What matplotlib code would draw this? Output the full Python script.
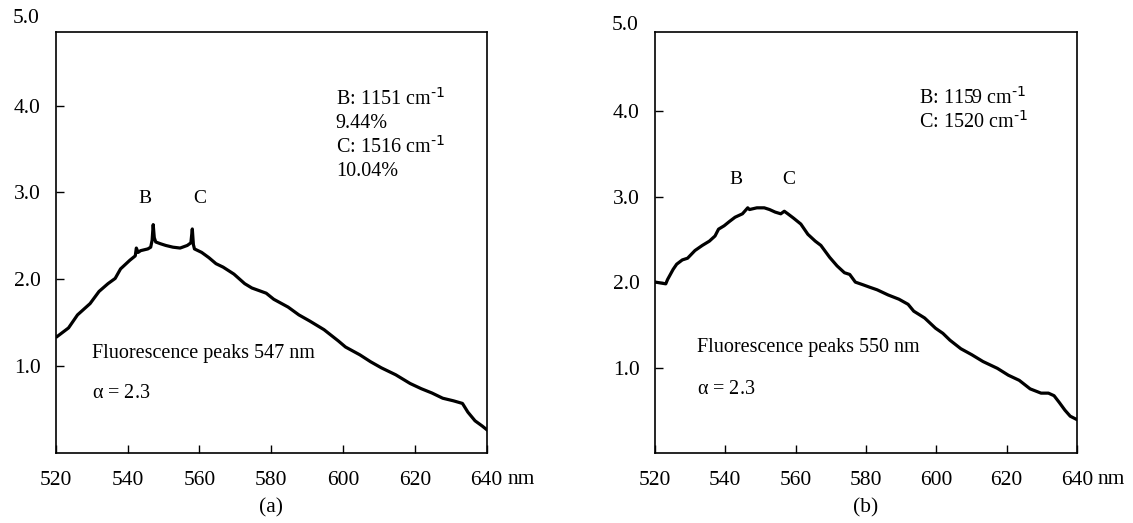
import numpy as np
import matplotlib
matplotlib.use("Agg")
import matplotlib.pyplot as plt

plt.rcParams['font.family'] = ['Liberation Serif', 'DejaVu Serif']
plt.rcParams['mathtext.default'] = 'regular'

# panel (a) spectrum
wl_a = [520.3, 523.5, 526.0, 529.5, 532.0, 534.5, 536.5, 538.0, 540.6, 542.1,
        542.4, 542.9, 543.6, 545.6, 546.4, 546.8, 547.1, 547.4, 547.8, 549.1,
        550.6, 552.6, 554.6, 556.6, 557.6, 558.0, 558.3, 558.6, 560.6, 562.6,
        564.6, 566.6, 569.6, 572.6, 574.6, 578.6, 580.7, 584.7, 587.7, 590.7,
        594.7, 598.7, 600.7, 604.7, 607.7, 610.7, 614.7, 618.7, 621.8, 624.8,
        627.8, 630.8, 633.3, 634.8, 636.8, 638.8, 640.0]
int_a = [1.34, 1.44, 1.59, 1.72, 1.86, 1.95, 2.01, 2.12, 2.22, 2.27,
         2.36, 2.31, 2.33, 2.35, 2.37, 2.45, 2.63, 2.48, 2.43, 2.41,
         2.39, 2.37, 2.36, 2.39, 2.42, 2.58, 2.40, 2.35, 2.31, 2.25,
         2.18, 2.14, 2.06, 1.95, 1.90, 1.84, 1.77, 1.68, 1.59, 1.52,
         1.42, 1.29, 1.22, 1.13, 1.05, 0.98, 0.90, 0.80, 0.74, 0.69,
         0.63, 0.60, 0.57, 0.47, 0.37, 0.31, 0.27]

# panel (b) spectrum
wl_b = [520.2, 521.6, 523.1, 523.6, 525.2, 526.2, 527.8, 529.3, 531.4, 533.5,
        535.5, 537.1, 538.1, 539.7, 541.2, 542.8, 544.9, 546.4, 546.9, 549.0,
        551.1, 552.6, 554.2, 555.8, 556.8, 557.8, 559.4, 561.5, 563.5, 565.6,
        567.2, 569.7, 571.8, 573.9, 575.4, 577.0, 579.1, 581.1, 583.2, 586.3,
        589.4, 592.0, 593.6, 596.7, 599.8, 601.9, 603.9, 607.0, 610.1, 613.3,
        617.4, 620.5, 623.6, 626.7, 629.8, 631.9, 633.5, 635.0, 636.6, 638.1,
        640.0]
int_b = [2.00, 1.99, 1.98, 2.03, 2.15, 2.21, 2.26, 2.28, 2.37, 2.43,
         2.48, 2.54, 2.62, 2.66, 2.71, 2.76, 2.80, 2.87, 2.85, 2.87,
         2.87, 2.85, 2.82, 2.80, 2.83, 2.80, 2.75, 2.68, 2.56, 2.48,
         2.43, 2.29, 2.19, 2.11, 2.09, 2.00, 1.97, 1.94, 1.91, 1.85,
         1.80, 1.74, 1.66, 1.58, 1.46, 1.40, 1.32, 1.22, 1.15, 1.07,
         0.99, 0.91, 0.85, 0.75, 0.70, 0.70, 0.67, 0.59, 0.50, 0.43,
         0.39]

xticks = [520, 540, 560, 580, 600, 620, 640]
yticks = [1.0, 2.0, 3.0, 4.0]

notes_a = [r'B: 1151 cm$^{\text{-1}}$', '9.44%', r'C: 1516 cm$^{\text{-1}}$', '10.04%']
notes_b = [r'B: 1159 cm$^{\text{-1}}$', r'C: 1520 cm$^{\text{-1}}$']

TICK_FS = 15.5
NOTE_FS = 14.5


def draw_panel(ax, wl, inten, top, notes, note_pos, peak_text, peak_pos,
               bc_pos, tag):
    ax.plot(wl, inten, color='black', lw=2.3, solid_joinstyle='round')
    ax.set_xlim(520, 640)
    ax.set_ylim(0, top)
    ax.set_xticks(xticks)
    ax.set_yticks(yticks)
    ax.set_yticklabels([f'{v:.1f}' for v in yticks])
    ax.tick_params(direction='in', length=6, width=1, labelsize=TICK_FS)
    ax.tick_params(axis='y', pad=11)
    ax.tick_params(axis='x', pad=13)
    for s in ax.spines.values():
        s.set_linewidth(1.2)
    # the 5.0 label sits above the frame like in the original
    ax.text(-0.038, 5.0 / top, '5.0', transform=ax.transAxes, ha='right',
            va='center', fontsize=TICK_FS, clip_on=False)
    ax.text(1.05, -0.063, 'nm', transform=ax.transAxes, ha='left',
            va='center', fontsize=TICK_FS)
    ax.text(0.5, -0.13, tag, transform=ax.transAxes, ha='center',
            va='center', fontsize=TICK_FS)

    x0, y0, dy = note_pos
    for i, line in enumerate(notes):
        ax.text(x0, y0 - i * dy, line, fontsize=NOTE_FS, va='center')
    ax.text(peak_pos[0], peak_pos[1], peak_text, fontsize=NOTE_FS, va='center')
    ax.text(peak_pos[0], peak_pos[2], r'$\alpha$ = 2.3', fontsize=NOTE_FS,
            va='center')
    ax.text(bc_pos[0], bc_pos[2], 'B', fontsize=14, ha='center', va='center')
    ax.text(bc_pos[1], bc_pos[2], 'C', fontsize=14, ha='center', va='center')


fig = plt.figure(figsize=(11.33, 5.23), dpi=100)
ax1 = fig.add_axes([0.0494, 0.134, 0.380, 0.805])
ax2 = fig.add_axes([0.578, 0.134, 0.3725, 0.805])

draw_panel(ax1, wl_a, int_a, 4.85, notes_a, (598.0, 4.08, 0.28),
           'Fluorescence peaks 547 nm', (530.0, 1.15, 0.68),
           (544.8, 560.2, 2.93), '(a)')
draw_panel(ax2, wl_b, int_b, 4.93, notes_b, (595.2, 4.15, 0.28),
           'Fluorescence peaks 550 nm', (531.9, 1.24, 0.74),
           (543.0, 558.1, 3.2), '(b)')

fig.savefig('out.png', dpi=100)
